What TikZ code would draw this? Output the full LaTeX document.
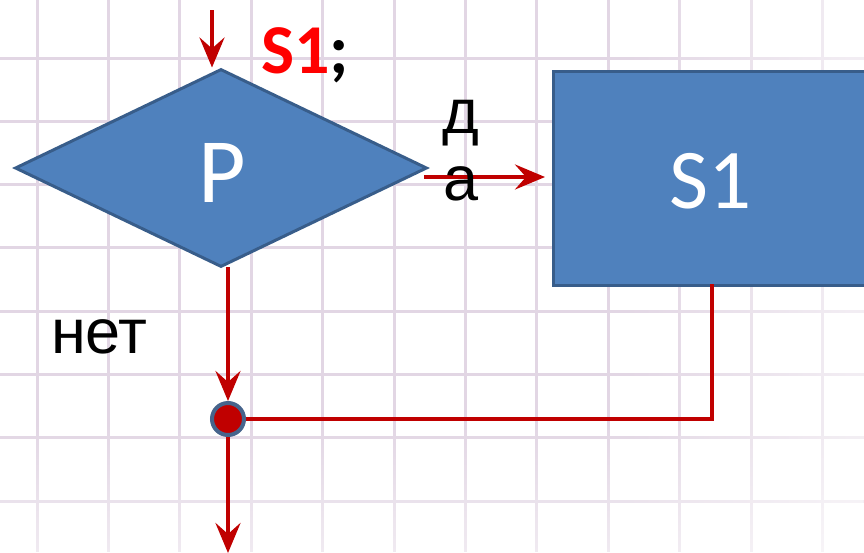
\documentclass[tikz,border=0pt]{standalone}
\usepackage{fontspec}
\newfontfamily\calfont{Carlito}
\newfontfamily\arifont{Liberation Sans}
\usetikzlibrary{shapes.geometric,arrows.meta,fadings}
\definecolor{gridc}{RGB}{226,214,228}
\definecolor{boxfill}{RGB}{79,129,189}
\definecolor{boxdraw}{RGB}{56,93,138}
\definecolor{flow}{RGB}{192,0,0}
\definecolor{jdraw}{RGB}{70,100,140}
\definecolor{labred}{RGB}{255,0,0}
\begin{document}
\begin{tikzpicture}[x=1pt,y=-1pt,
  flowline/.style={draw=flow,line width=4pt},
  tipped/.style={-{Stealth[length=30pt,width=25pt,inset=11pt]}},
  blockbox/.style={draw=boxdraw,fill=boxfill,line width=3pt,inner sep=0pt},
  gridline/.style={gridc,line width=3pt},
  wtext/.style={text=white,inner sep=0pt},
  btext/.style={text=black,inner sep=0pt,font=\arifont\fontsize{63}{63}\selectfont}]
\useasboundingbox (0,0) rectangle (864,552);
\clip (0,0) rectangle (864,552);
\fill[white] (0,0) rectangle (864,552);
\foreach \i in {0,...,11} \draw[gridline] ({37+71.4*\i},0) -- ({37+71.4*\i},552);
\foreach \j in {-1,0,...,7} \draw[gridline] (0,{58+63.3*\j}) -- (864,{58+63.3*\j});
\fill[white,path fading=west,opacity=0.6] (620,0) rectangle (864,552);
\fill[white,path fading=north,opacity=0.5] (0,420) rectangle (864,552);
% blocks
\node[blockbox,diamond,minimum width=412pt,minimum height=198pt] (d) at (221,168) {};
\node[blockbox,rectangle,minimum width=320pt,minimum height=214pt,anchor=north west] (s) at (552,70) {};
\node[wtext,font=\calfont\fontsize{92}{92}\selectfont] (pt) at (222,173) {P};
\node[wtext,font=\calfont\fontsize{85}{85}\selectfont] (st) at (711,181) {S1};
\node[anchor=base west,inner sep=0pt,font=\calfont\bfseries\fontsize{70}{70}\selectfont] (lab) at (261,73) {\textcolor{labred}{S1};};
% junction
\node[circle,fill=flow,draw=jdraw,line width=4pt,minimum size=32pt,inner sep=0pt] (j) at (228,419) {};
% coordinates
\coordinate (in) at (212,10);
\coordinate (ya) at (424,177);
\coordinate (yb) at (545,177);
\coordinate (db) at (228,267);
\coordinate (sb) at (712,284);
\coordinate (out) at (228,553);
% connectors
\draw[flowline,tipped] (in) -- (in |- d.north);
\draw[flowline,tipped] (ya) -- (yb);
\draw[flowline,tipped] (db) -- (j.north);
\draw[flowline] (sb) |- (j.east);
\draw[flowline,tipped] (j.south) -- (out);
% labels
\node[btext,anchor=base west] (yes1) at (442,133) {д};
\node[btext,anchor=base west] (yes2) at (443,200) {а};
\node[btext,anchor=base west] (no) at (51,353) {нет};
\end{tikzpicture}
\end{document}
